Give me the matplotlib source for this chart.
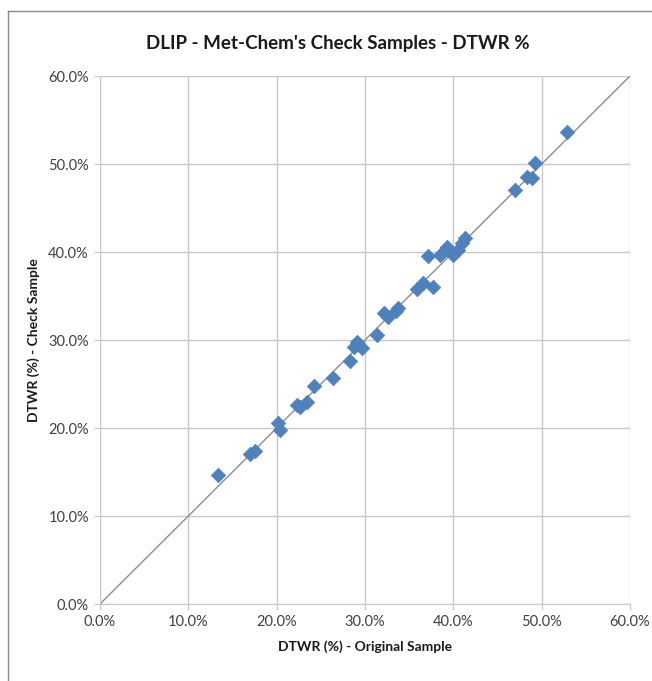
import matplotlib
matplotlib.use("Agg")
import matplotlib.pyplot as plt
from matplotlib.lines import Line2D
from matplotlib.ticker import FuncFormatter

original = [13.4, 17.0, 17.6, 20.2, 20.4, 22.3, 22.6, 23.4, 24.2, 26.4, 28.3, 28.7, 29.1, 29.7,
            31.4, 32.1, 32.6, 33.5, 33.7, 35.9, 36.6, 37.7, 37.1, 38.5, 39.3, 40.0, 40.5, 41.0,
            41.3, 47.0, 48.3, 48.9, 49.2, 52.9]
check = [14.7, 17.0, 17.4, 20.6, 19.8, 22.6, 22.4, 23.0, 24.8, 25.7, 27.6, 29.2, 29.8, 29.1,
         30.6, 33.1, 32.6, 33.3, 33.6, 35.8, 36.5, 36.0, 39.5, 39.7, 40.6, 39.7, 40.2, 41.0,
         41.6, 47.0, 48.5, 48.4, 50.1, 53.6]
ticks = [0, 10, 20, 30, 40, 50, 60]

plt.rcParams['font.family'] = ['Lato', 'DejaVu Sans']

fig = plt.figure(figsize=(6.52, 6.81), dpi=100)
ax = fig.add_axes([100/652, 77/681, 530/652, 528/681])

ax.set_xlim(0, 60)
ax.set_ylim(0, 60)
ax.set_xticks(ticks)
ax.set_yticks(ticks)
fmt = FuncFormatter(lambda v, p: f"{v:.1f}%")
ax.xaxis.set_major_formatter(fmt)
ax.yaxis.set_major_formatter(fmt)
ax.grid(True, color='#C8C8C8', linewidth=1)
ax.set_axisbelow(True)
for s in ['top', 'right']:
    ax.spines[s].set_visible(False)
for s in ['left', 'bottom']:
    ax.spines[s].set_color('#C8C8C8')
ax.tick_params(axis='both', colors='#C8C8C8', labelcolor='#404040', labelsize=10.5, length=4, pad=4)

ax.plot([0, 60], [0, 60], color='#8C8C8C', linewidth=1, zorder=2)
ax.scatter(original, check, marker='D', s=55, color='#4F81BD', edgecolors='#4F81BD',
           linewidths=0.5, zorder=3)

ax.set_xlabel('DTWR (%) - Original Sample', fontsize=10, fontweight='bold', color='#1a1a1a', labelpad=8)
ax.set_ylabel('DTWR (%) - Check Sample', fontsize=10, fontweight='bold', color='#1a1a1a', labelpad=6)
fig.text(338/652, 1 - 44/681, "DLIP - Met-Chem's Check Samples - DTWR %", ha='center', va='center',
         fontsize=13.5, fontweight='bold', color='#1a1a1a')

fig.add_artist(Line2D([8/652, 8/652], [0, 1 - 11/681], transform=fig.transFigure, color='#8C8C8C', linewidth=1))
fig.add_artist(Line2D([8/652, 1], [1 - 11/681, 1 - 11/681], transform=fig.transFigure, color='#8C8C8C', linewidth=1))

fig.savefig('out.png', dpi=100)
